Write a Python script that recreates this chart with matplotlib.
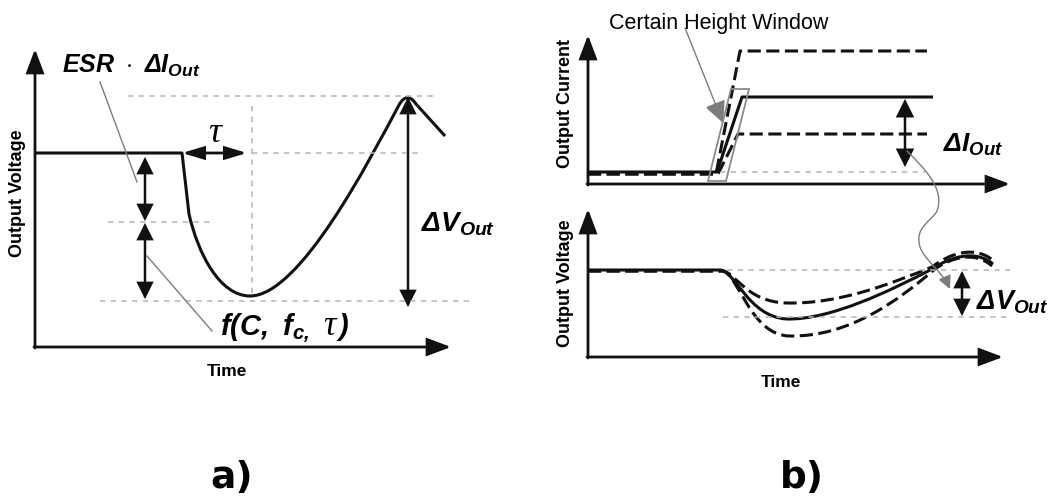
import matplotlib.pyplot as plt
from matplotlib.patches import ArrowStyle, FancyArrowPatch, PathPatch, Polygon
from matplotlib.path import Path

plt.rcParams["font.family"] = ["Liberation Sans", "DejaVu Sans"]
plt.rcParams["mathtext.fontset"] = "custom"
plt.rcParams["mathtext.rm"] = "Liberation Sans:bold"
plt.rcParams["mathtext.it"] = "Liberation Sans:italic:bold"
plt.rcParams["mathtext.sf"] = "Liberation Sans:italic:bold"
plt.rcParams["mathtext.cal"] = "Liberation Serif:italic"

INK = "#111111"
GUIDE = "#b4b4b4"
LEADER = "#7c7c7c"

# Curve outlines in canvas pixels; codes: M = move, L = line, C = cubic bezier point
VOUT_A = [(36, 154), (182, 154), (189, 215),
          (198, 255), (220, 297), (250, 297),
          (300, 297), (370, 160), (399, 106),
          (404, 97), (410, 96), (416, 105),
          (445, 137)]
VOUT_A_CODES = "MLLCCCCCCCCCL"

IOUT_SOLID = [(588, 173), (717, 173), (742, 98), (933, 98)]
IOUT_HIGH = [(588, 175), (716, 175), (740, 52), (927, 52)]
IOUT_LOW = [(588, 175), (718, 175), (738, 135), (927, 135)]
IOUT_CODES = "MLLL"

VOUT_B_SOLID = [(588, 271), (720, 271),
                (735, 271), (748, 318), (787, 320),
                (830, 321), (890, 292), (932, 270),
                (950, 258), (975, 250), (993, 265)]
VOUT_B_HIGH = [(588, 272), (722, 272),
               (735, 272), (745, 303), (787, 304),
               (840, 305), (890, 285), (932, 268),
               (950, 254), (975, 246), (994, 262)]
VOUT_B_LOW = [(588, 272), (722, 272),
              (738, 273), (750, 337), (790, 337),
              (850, 338), (900, 300), (935, 270),
              (952, 258), (975, 252), (992, 267)]
VOUT_B_CODES = "MLCCCCCCCCC"

LEADER_CURVE = [(907, 152),
                (925, 170), (945, 190), (937, 212),
                (932, 222), (914, 228), (920, 248),
                (925, 262), (942, 272), (950, 290)]
LEADER_CODES = "MCCCCCCCCC"

CODE_MAP = {"M": Path.MOVETO, "L": Path.LINETO, "C": Path.CURVE4}
DASHED = (0, (4.3, 1.8))


def make_path(pts, codes):
    return Path(pts, [CODE_MAP[c] for c in codes])


def curve(ax, pts, codes, lw=2.2, ls="-", color=INK):
    ax.add_patch(PathPatch(make_path(pts, codes), fill=False, edgecolor=color,
                           lw=lw, linestyle=ls, joinstyle="round", capstyle="butt"))


def guide(ax, x0, y0, x1, y1):
    ax.plot([x0, x1], [y0, y1], color=GUIDE, lw=1.1, dashes=(3.5, 3.5))


def arrow(ax, p0, p1, style="-|>", size=36, hl=0.4, hw=0.15, color=INK, lw=2.0):
    ax.add_patch(FancyArrowPatch(p0, p1, arrowstyle=ArrowStyle(style, head_length=hl, head_width=hw),
                                 mutation_scale=size, color=color, lw=lw,
                                 shrinkA=0, shrinkB=0, joinstyle="miter"))


def axes_frame(ax, x0, y0, x1, y1):
    arrow(ax, (x0, y0 + 1), (x0, y1))
    arrow(ax, (x0 - 1, y0), (x1, y0))


fig = plt.figure(figsize=(10.54, 5.02), dpi=100)
ax = fig.add_axes([0, 0, 1, 1])
ax.set_xlim(0, 1054)
ax.set_ylim(502, 0)
ax.axis("off")

# ---- a) output voltage response ----
axes_frame(ax, 35, 348, 451, 50)
guide(ax, 128, 97, 433, 97)
guide(ax, 252, 154, 423, 154)
guide(ax, 108, 223, 213, 223)
guide(ax, 100, 302, 470, 302)
guide(ax, 252, 107, 252, 297)
curve(ax, VOUT_A, VOUT_A_CODES)

arrow(ax, (182, 154), (247, 154), style="<|-|>", size=32, hw=0.12)
arrow(ax, (145, 158), (145, 222), style="<|-|>", size=24, hw=0.2, lw=1.8)
arrow(ax, (145, 224), (145, 300), style="<|-|>", size=24, hw=0.2, lw=1.8)
arrow(ax, (408, 98), (408, 308), style="<|-|>", size=24, hw=0.2, lw=1.8)

ax.plot([100, 137], [83, 183], color=LEADER, lw=1.0)
ax.plot([147, 212], [257, 332], color=LEADER, lw=1.0)

ax.text(62, 73, r"$ESR\ \cdot\ \mathsf{Δ}I_{Out}$", fontsize=18, va="baseline")
ax.text(215, 142, "τ", family="Liberation Serif", style="italic", fontsize=26,
        ha="center", va="baseline")
ax.text(421, 232, r"$\mathsf{Δ}V_{Out}$", fontsize=20, va="baseline")
# f(C, f_c, tau): the tau is set in a serif face, larger than the sans letters
ax.text(220, 335, r"$\mathsf{f(C,\ f}_{\mathsf{c,}}$", fontsize=21, va="baseline")
ax.text(329, 335, "τ", family="Liberation Serif", style="italic", fontsize=25,
        ha="center", va="baseline")
ax.text(336, 335, r"$\mathsf{)}$", fontsize=21, va="baseline")
ax.text(18, 193, "Output Voltage", rotation=90, fontsize=13, fontweight="bold",
        ha="center", va="center")
ax.text(227, 372, "Time", fontsize=12.5, fontweight="bold", ha="center", va="center")

# ---- b) top: output current steps ----
axes_frame(ax, 588, 185, 1010, 36)
guide(ax, 720, 173, 925, 173)
curve(ax, IOUT_SOLID, IOUT_CODES)
curve(ax, IOUT_HIGH, IOUT_CODES, ls=DASHED)
curve(ax, IOUT_LOW, IOUT_CODES, ls=DASHED)
ax.add_patch(Polygon([(708, 182), (726, 182), (749, 90), (731, 90)], closed=True,
                     fill=False, edgecolor="#8a8a8a", lw=1.3))
arrow(ax, (685, 29), (723, 124), size=30, hl=0.45, hw=0.22, color=LEADER, lw=1.0)
arrow(ax, (905, 100), (905, 168), style="<|-|>", size=26, hw=0.2, lw=1.8)
ax.text(719, 23, "Certain Height Window", fontsize=15.5, ha="center", va="center")
ax.text(943, 152, r"$\mathsf{Δ}I_{Out}$", fontsize=19, va="baseline")
ax.text(566, 104, "Output Current", rotation=90, fontsize=13, fontweight="bold",
        ha="center", va="center")

# ---- b) bottom: output voltage family ----
axes_frame(ax, 588, 358, 1003, 210)
guide(ax, 727, 271, 1010, 271)
guide(ax, 723, 318, 1010, 318)
curve(ax, VOUT_B_SOLID, VOUT_B_CODES)
curve(ax, VOUT_B_HIGH, VOUT_B_CODES, ls=DASHED)
curve(ax, VOUT_B_LOW, VOUT_B_CODES, ls=DASHED)
arrow(ax, (962, 272), (962, 317), style="<|-|>", size=24, hw=0.2, lw=1.8)
ax.text(976, 310, r"$\mathsf{Δ}V_{Out}$", fontsize=19.5, va="baseline")
ax.text(566, 283, "Output Voltage", rotation=90, fontsize=13, fontweight="bold",
        ha="center", va="center")
ax.text(781, 383, "Time", fontsize=12.5, fontweight="bold", ha="center", va="center")

ax.add_patch(FancyArrowPatch(path=make_path(LEADER_CURVE, LEADER_CODES),
                             arrowstyle=ArrowStyle("-|>", head_length=0.5, head_width=0.25),
                             mutation_scale=16, color=LEADER, lw=1.0))

# panel tags
ax.text(232, 478, "a)", family="DejaVu Sans", fontweight="bold", fontsize=27,
        ha="center", va="center")
ax.text(802, 478, "b)", family="DejaVu Sans", fontweight="bold", fontsize=27,
        ha="center", va="center")

fig.savefig("out.png", dpi=100, facecolor="white")
